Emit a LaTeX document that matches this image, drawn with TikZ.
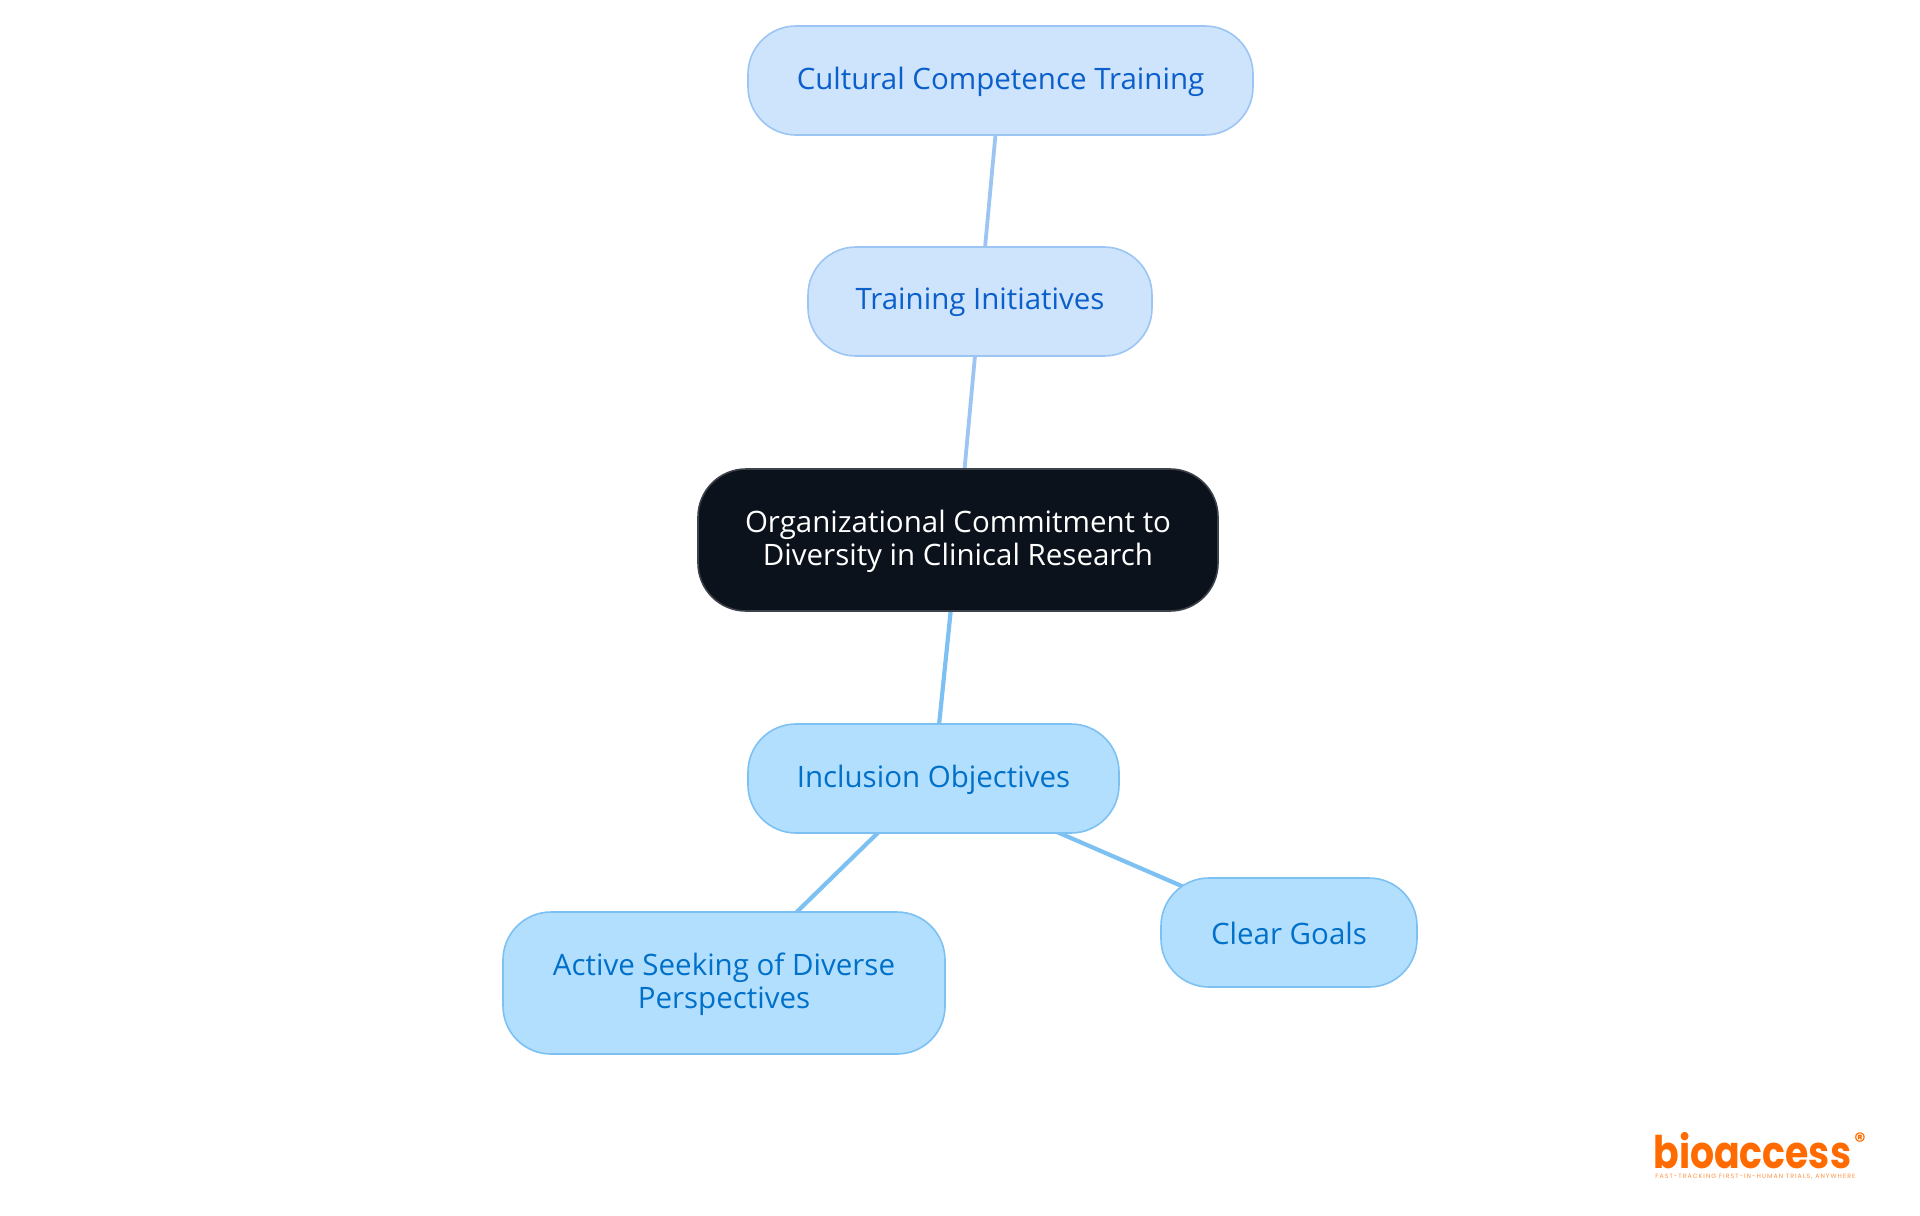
\documentclass[tikz,border=0pt]{standalone}
\usepackage{fontspec}
\setmainfont{Open Sans}
\newfontfamily\logofont{Poppins}[BoldFont={Poppins Bold}]
\newfontfamily\tagfont{Poppins}[LetterSpace=17]
\usetikzlibrary{backgrounds}
\definecolor{darkfill}{HTML}{0C121B}
\definecolor{darkedge}{HTML}{3D424A}
\definecolor{upfill}{HTML}{CEE4FC}
\definecolor{upedge}{HTML}{9CC5F3}
\definecolor{uptext}{HTML}{0B5FCB}
\definecolor{lowfill}{HTML}{B3DFFF}
\definecolor{lowedge}{HTML}{7DC1F3}
\definecolor{lowtext}{HTML}{0070C9}
\definecolor{logoorange}{HTML}{FF6B00}
\tikzset{
  x=0.5pt,y=-0.5pt,
  box/.style={rounded corners=24pt,line width=0.8pt,inner sep=0pt,align=center,
    font=\fontsize{14.75}{16.6}\selectfont},
  rootbox/.style={box,fill=darkfill,draw=darkedge,text=white},
  upbox/.style={box,fill=upfill,draw=upedge,text=uptext},
  lowbox/.style={box,fill=lowfill,draw=lowedge,text=lowtext},
  uplink/.style={draw=upedge,line width=1.9pt},
  lowlink/.style={draw=lowedge,line width=2.1pt},
}
\newcommand{\boxat}[7]{%
  \node[#2,minimum width=#5*0.5pt-#3*0.5pt,minimum height=#6*0.5pt-#4*0.5pt] (#1) at ({(#3+#5)/2},{(#4+#6)/2}) {#7};}
\newcommand{\oneline}[1]{\raisebox{-0.5pt}[\height][\depth]{#1}}
\newcommand{\twolines}[2]{\raisebox{-1.3pt}[\height][\depth]{\begin{tabular}{@{}c@{}}#1\\#2\end{tabular}}}
\begin{document}
\begin{tikzpicture}
\useasboundingbox (0,0) rectangle (1920,1215);
\boxat{cult}{upbox}{748}{26}{1253}{135}{\oneline{Cultural Competence Training}}
\boxat{train}{upbox}{808}{247}{1152}{356}{\oneline{Training Initiatives}}
\boxat{root}{rootbox}{698}{469}{1218}{611}{\textcolor{white}{\twolines{Organizational Commitment to}{Diversity in Clinical Research}}}
\boxat{incl}{lowbox}{748}{724}{1119}{833}{\oneline{Inclusion Objectives}}
\boxat{active}{lowbox}{503}{912}{945}{1054}{\twolines{Active Seeking of Diverse}{Perspectives}}
\boxat{goals}{lowbox}{1161}{878}{1417}{987}{\oneline{Clear Goals}}
\begin{scope}[on background layer]
\draw[uplink] (cult.center) -- (train.center);
\draw[uplink] (train.center) -- (root.center);
\draw[lowlink] (root.center) -- (incl.center);
\draw[lowlink] (incl.center) -- (active.center);
\draw[lowlink] (incl.center) -- (goals.center);
\end{scope}
\node[inner sep=0pt,anchor=west,xscale=0.84,text=logoorange,font=\logofont\bfseries\fontsize{22.5}{23}\selectfont] (logo) at (1653,1151) {bioaccess};
\node[inner sep=0pt,anchor=center,text=logoorange,font=\logofont\bfseries\fontsize{11}{11}\selectfont] (reg) at (1860,1141) {®};
\node[inner sep=0pt,anchor=west,text=logoorange!75,font=\tagfont\fontsize{3.1}{3.5}\selectfont] (tag) at (1655,1177) {FAST-TRACKING FIRST-IN-HUMAN TRIALS, ANYWHERE};
\end{tikzpicture}
\end{document}
